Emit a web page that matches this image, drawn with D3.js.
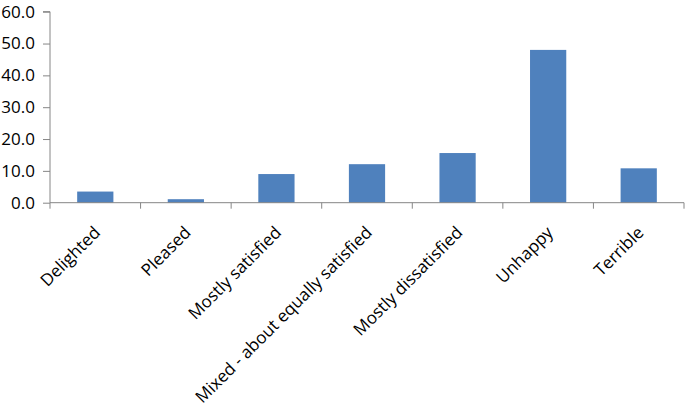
<!DOCTYPE html>
<html><head><meta charset="utf-8">
<script src="https://cdn.jsdelivr.net/npm/d3@7"></script>
<style>body{margin:0;background:#fff}</style>
</head><body>
<svg id="c" width="685" height="405"></svg>
<script>
const categories = ["Delighted","Pleased","Mostly satisfied","Mixed - about equally satisfied","Mostly dissatisfied","Unhappy","Terrible"];
const values = [3.5, 1.1, 9.0, 12.1, 15.6, 48.0, 10.8];
const yTicks = [0,10,20,30,40,50,60];

const svg = d3.select("#c");
const m = {left:50, right:1, top:11.7, bottom:202.7};
const x = d3.scaleBand().domain(categories).range([m.left, 684]).paddingInner(0.6).paddingOuter(0.3);
const y = d3.scaleLinear().domain([0,60]).range([202.7, 11.7]);
const font = "'Open Sans', sans-serif";
const axisColor = "#868686";

svg.selectAll("rect.bar").data(values).join("rect")
  .attr("class","bar")
  .attr("x",(d,i)=>x(categories[i]))
  .attr("width",x.bandwidth())
  .attr("y",d=>y(d))
  .attr("height",d=>y(0)-y(d))
  .attr("fill","#4F81BD");

const ya = svg.append("g").attr("transform",`translate(${m.left},0)`)
  .call(d3.axisLeft(y).tickValues(yTicks).tickFormat(d3.format(".1f")).tickSize(7).tickPadding(8));
ya.select(".domain").attr("stroke",axisColor).attr("d",`M-7,${y(60)}H0V${y(0)}`);
ya.selectAll(".tick line").attr("stroke",axisColor);
ya.selectAll("text").attr("font-family",font).attr("font-size",17).attr("fill","#000");

// x axis with ticks between categories
const xb = d3.scaleLinear().domain([0,categories.length]).range([m.left,684]);
const xa = svg.append("g");
xa.append("line").attr("x1",m.left).attr("x2",684).attr("y1",y(0)).attr("y2",y(0)).attr("stroke",axisColor);
xa.selectAll("line.t").data(d3.range(categories.length+1)).join("line").attr("class","t")
  .attr("x1",d=>xb(d)).attr("x2",d=>xb(d)).attr("y1",y(0)).attr("y2",y(0)+6).attr("stroke",axisColor);

xa.selectAll("text.cat").data(categories).join("text").attr("class","cat")
  .attr("font-family",font).attr("font-size",17).attr("fill","#000")
  .attr("text-anchor","end")
  .attr("transform",d=>`translate(${x(d)+x.bandwidth()/2+6},${y(0)+31}) rotate(-45)`)
  .text(d=>d);
</script>
</body></html>
